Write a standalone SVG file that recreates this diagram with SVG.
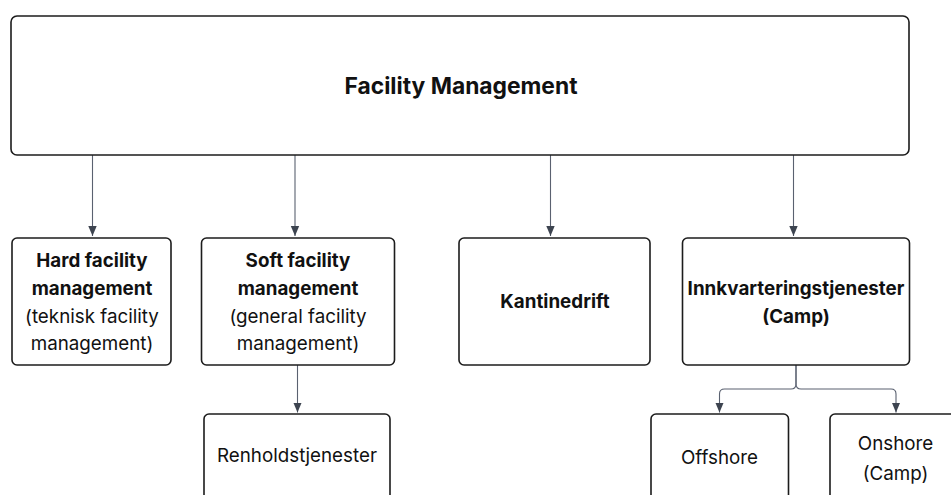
<svg xmlns="http://www.w3.org/2000/svg" width="951" height="495" viewBox="0 0 951 495">
<style>
.box{fill:#fff;stroke:#1c1c1c;stroke-width:1.6}
.t{font-family:Inter,"Liberation Sans",sans-serif;font-size:18.8px;fill:#111;text-anchor:middle}
.b{font-weight:700}
.title{font-size:22.8px}
.c{fill:none;stroke:#5a6170;stroke-width:1.1}
</style>
<defs>
<marker id="ah" viewBox="0 0 10 10" refX="10" refY="5" markerWidth="10" markerHeight="10" markerUnits="userSpaceOnUse" orient="auto">
<path d="M0,0.8 L10,5 L0,9.2 Z" fill="#3d4450"/>
</marker>
</defs>
<rect width="951" height="495" fill="#fff"/>
<g id="connectors">
<path class="c" d="M92.5,155 V236" marker-end="url(#ah)"/>
<path class="c" d="M295,155 V236" marker-end="url(#ah)"/>
<path class="c" d="M550.5,155 V236" marker-end="url(#ah)"/>
<path class="c" d="M793.5,155 V236" marker-end="url(#ah)"/>
<path class="c" d="M297.5,365 V412.5" marker-end="url(#ah)"/>
<path class="c" d="M796,365 V384 Q796,389 791,389 H724.5 Q719.5,389 719.5,394 V412.5" marker-end="url(#ah)"/>
<path class="c" d="M796,365 V384 Q796,389 801,389 H891 Q896,389 896,394 V412.5" marker-end="url(#ah)"/>
</g>
<g id="facility-management">
<rect class="box" x="11" y="16" width="898" height="139" rx="6"/>
<text class="t b title" x="461" y="94">Facility Management</text>
</g>
<g id="hard-fm">
<rect class="box" x="12" y="238" width="159" height="127" rx="5"/>
<text class="t b" x="92" y="267">Hard facility</text>
<text class="t b" x="92" y="294.5">management</text>
<text class="t" x="92" y="322.5">(teknisk facility</text>
<text class="t" x="92" y="350">management)</text>
</g>
<g id="soft-fm">
<rect class="box" x="201.5" y="238" width="193" height="127" rx="5"/>
<text class="t b" x="298" y="267">Soft facility</text>
<text class="t b" x="298" y="294.5">management</text>
<text class="t" x="298" y="322.5">(general facility</text>
<text class="t" x="298" y="350">management)</text>
</g>
<g id="kantinedrift">
<rect class="box" x="459" y="238" width="191" height="127" rx="5"/>
<text class="t b" x="555" y="307.5">Kantinedrift</text>
</g>
<g id="innkvartering">
<rect class="box" x="682.5" y="238" width="227" height="127" rx="5"/>
<text class="t b" x="796" y="295">Innkvarteringstjenester</text>
<text class="t b" x="796" y="322.5">(Camp)</text>
</g>
<g id="renhold">
<rect class="box" x="204" y="414" width="186" height="100" rx="5"/>
<text class="t" x="297" y="461.5">Renholdstjenester</text>
</g>
<g id="offshore">
<rect class="box" x="651" y="414" width="137.5" height="100" rx="5"/>
<text class="t" x="719.5" y="463.5">Offshore</text>
</g>
<g id="onshore">
<rect class="box" x="830" y="414" width="131" height="100" rx="5"/>
<text class="t" x="895.5" y="450">Onshore</text>
<text class="t" x="895.5" y="480">(Camp)</text>
</g>
</svg>
